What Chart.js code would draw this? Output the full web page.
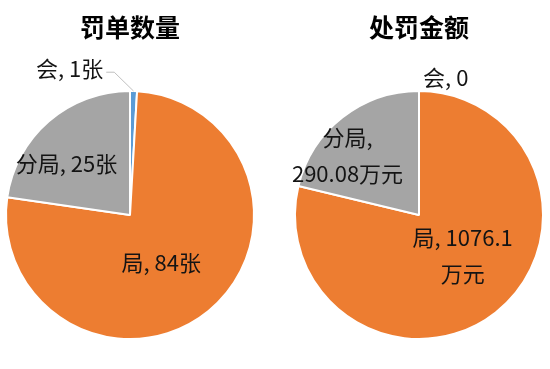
<!DOCTYPE html>
<html>
<head>
<meta charset="utf-8">
<script src="https://cdn.jsdelivr.net/npm/chart.js@4/dist/chart.umd.min.js"></script>
<style>
  body { margin: 0; background: #fff; }
  #wrap { position: relative; width: 550px; height: 369px; overflow: hidden; }
  #wrap canvas { position: absolute; top: 0; }
</style>
</head>
<body>
<div id="wrap">
  <canvas id="pieCount" width="260" height="369" style="left:0px"></canvas>
  <canvas id="pieMoney" width="260" height="369" style="left:289px"></canvas>
</div>
<script>
// donnees
const categories = ['会', '局', '分局'];
const countValues = [1, 84, 25];
const moneyValues = [0, 1076.1, 290.08];
const countTitle = '罚单数量';
const moneyTitle = '处罚金额';
const countUnit = '张';
const moneyUnit = '万元';

const colors = ['#5B9BD5', '#ED7D31', '#A5A5A5'];
const fontCJK = '"Noto Sans CJK SC", "Noto Sans", sans-serif';

// placement des etiquettes : decalage d'angle (deg) et rayon relatif
const countLabelShift = [-24, 6, -10];
const countLabelRadius = [1.28, 0.46, 0.66];
const moneyLabelShift = [11, -9, -12];
const moneyLabelRadius = [1.13, 0.48, 0.75];

function isCJK(ch) {
  return /[\u3000-\u9fff\uff00-\uffef]/.test(ch);
}

// decoupe simple, coupure aux espaces ou autour des caracteres chinois
function wrapText(ctx, text, maxWidth) {
  if (!maxWidth || ctx.measureText(text).width <= maxWidth) return [text];
  var lines = [];
  var line = '';
  var lastBreak = -1;
  for (let i = 0; i < text.length; i++) {
    var ch = text[i];
    var test = line + ch;
    if (ctx.measureText(test).width > maxWidth && line.length > 0) {
      if (ch == ' ') {
        lines.push(line);
        line = '';
        lastBreak = -1;
        continue;
      }
      if (lastBreak > 0 && !isCJK(ch) && !isCJK(line[line.length - 1])) {
        lines.push(line.slice(0, lastBreak).trim());
        line = line.slice(lastBreak).trimStart() + ch;
      } else {
        lines.push(line.trim());
        line = ch;
      }
      lastBreak = -1;
      continue;
    }
    line = test;
    if (ch == ' ') lastBreak = line.length;
  }
  if (line.length) lines.push(line.trim());
  return lines;
}

const pieLabels = {
  id: 'pieLabels',
  afterDatasetsDraw(chart, args, opts) {
    var ctx = chart.ctx;
    var meta = chart.getDatasetMeta(0);
    var ds = chart.data.datasets[0];
    ctx.save();
    ctx.font = opts.fontSize + 'px ' + fontCJK;
    ctx.fillStyle = '#141414';
    ctx.textAlign = 'center';
    ctx.textBaseline = 'middle';
    meta.data.forEach(function (arc, i) {
      var p = arc.getProps(['x', 'y', 'startAngle', 'endAngle', 'outerRadius'], true);
      var mid = (p.startAngle + p.endAngle) / 2;
      var a = mid + opts.shift[i] * Math.PI / 180;
      var r = p.outerRadius * opts.radius[i];
      var lx = p.x + Math.cos(a) * r;
      var ly = p.y + Math.sin(a) * r;
      var text = chart.data.labels[i] + ', ' + ds.data[i] + (ds.data[i] ? opts.unit : '');
      var lines = wrapText(ctx, text, opts.maxWidth);
      var lh = opts.lineHeight;
      lines.forEach(function (t, k) {
        ctx.fillText(t, lx, ly + (k - (lines.length - 1) / 2) * lh);
      });
      if (opts.leader[i]) {
        var w = ctx.measureText(lines[0]).width;
        var ex = lx + w / 2 + 3;
        var ey = ly + 4;
        var ox = p.x + Math.cos(mid) * p.outerRadius;
        var oy = p.y + Math.sin(mid) * p.outerRadius;
        ctx.strokeStyle = '#bfbfbf';
        ctx.lineWidth = 1;
        ctx.beginPath();
        ctx.moveTo(ex, ey);
        ctx.lineTo(ex + 8, ey);
        ctx.lineTo(ox, oy);
        ctx.stroke();
      }
    });
    ctx.restore();
  }
};

function makePie(id, title, values, unit, shift, radius, leader, maxWidth) {
  return new Chart(document.getElementById(id), {
    type: 'pie',
    data: {
      labels: categories,
      datasets: [{
        data: values,
        backgroundColor: colors,
        borderColor: '#ffffff',
        borderWidth: 2
      }]
    },
    options: {
      responsive: false,
      animation: false,
      devicePixelRatio: 1,
      layout: { padding: { left: 5, right: 5, top: 0, bottom: 29 } },
      plugins: {
        legend: { display: false },
        tooltip: { enabled: false },
        title: {
          display: true,
          text: title,
          color: '#000',
          font: { family: fontCJK, size: 25, weight: 'bold', lineHeight: 1.2 },
          padding: { top: 12, bottom: 48 }
        },
        pieLabels: {
          fontSize: 22,
          lineHeight: 36,
          unit: unit,
          shift: shift,
          radius: radius,
          leader: leader,
          maxWidth: maxWidth
        }
      }
    },
    plugins: [pieLabels]
  });
}

makePie('pieCount', countTitle, countValues, countUnit, countLabelShift, countLabelRadius, [true, false, false], 0);
makePie('pieMoney', moneyTitle, moneyValues, moneyUnit, moneyLabelShift, moneyLabelRadius, [false, false, false], 115);
</script>
</body>
</html>
